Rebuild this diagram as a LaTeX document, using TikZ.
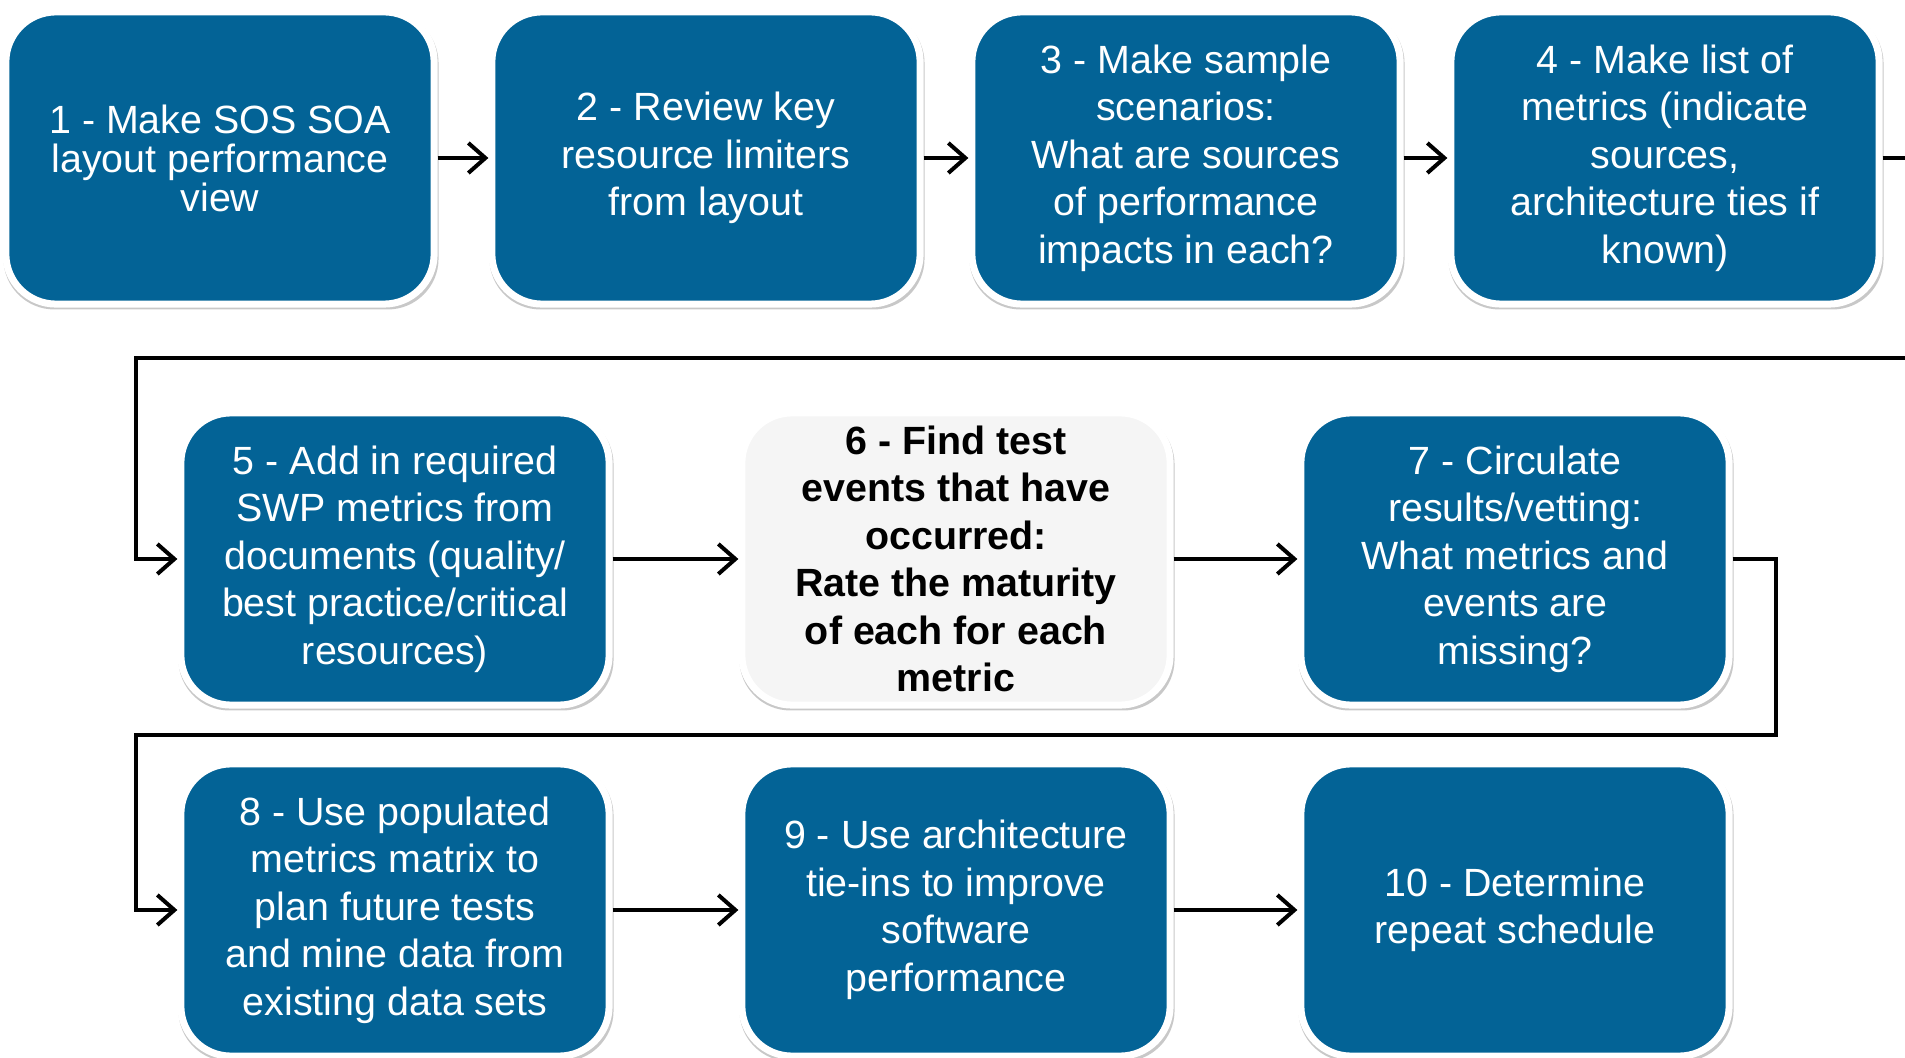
\documentclass[tikz,border=0pt]{standalone}
\usepackage{fontspec}
\setmainfont{Liberation Sans}
\usetikzlibrary{arrows.meta,shadows}

\definecolor{stepblue}{RGB}{3,99,150}
\definecolor{stepgray}{RGB}{245,245,245}

\tikzset{
  stepbox/.style={rectangle, rounded corners=0.5cm, draw=white, line width=0.07cm,
    fill=stepblue, text=white, minimum width=4.28cm, minimum height=2.92cm,
    inner sep=0pt, align=center, font=\fontsize{11.2}{13.5}\selectfont,
    drop shadow={shadow xshift=0.01cm, shadow yshift=-0.03cm, shadow scale=1.016,
      opacity=0.3, fill=black!70}},
  graybox/.style={stepbox, fill=stepgray, text=black,
    font=\fontsize{11.2}{13.5}\selectfont\bfseries},
  flow/.style={line width=0.04cm,
    -{Straight Barb[length=0.17cm,width=0.3cm]}}
}

\begin{document}
\begin{tikzpicture}[x=0.01cm,y=-0.01cm]
          \useasboundingbox (0,0) rectangle (1905,1058);
          \fill[white] (0,0) rectangle (1905,1058);
          \clip (0,0) rectangle (1905,1058);
          % first row
          \node[stepbox, font=\fontsize{11.2}{11.1}\selectfont] (b1) at (220,158) {1 - Make SOS SOA\\layout performance\\view};
          \node[stepbox] (b2) at (706,158) {2 - Review key\\resource limiters\\from layout};
          \node[stepbox] (b3) at (1186,158) {3 - Make sample\\scenarios:\\What are sources\\of performance\\impacts in each?};
          \node[stepbox] (b4) at (1665,158) {4 - Make list of\\metrics (indicate\\sources,\\architecture ties if\\known)};
          % second row
          \node[stepbox] (b5) at (395,559) {5 - Add in required\\SWP metrics from\\documents (quality/\\best practice/critical\\resources)};
          \node[graybox] (b6) at (956,559) {6 - Find test\\events that have\\occurred:\\Rate the maturity\\of each for each\\metric};
          \node[stepbox] (b7) at (1515,559) {7 - Circulate\\results/vetting:\\What metrics and\\events are\\missing?};
          % third row
          \node[stepbox] (b8) at (395,910) {8 - Use populated\\metrics matrix to\\plan future tests\\and mine data from\\existing data sets};
          \node[stepbox] (b9) at (956,910) {9 - Use architecture\\tie-ins to improve\\software\\performance};
          \node[stepbox] (b10) at (1515,910) {10 - Determine\\repeat schedule};
          % bends of the long connectors
          \coordinate (rt) at (1960,358);
          \coordinate (lt) at (136,358);
          \coordinate (rb) at (1776,735);
          \coordinate (lb) at (136,735);
          \draw[flow] (b1) -- (b2);
          \draw[flow] (b2) -- (b3);
          \draw[flow] (b3) -- (b4);
          \draw[flow] (b4.east) -| (rt) -- (lt) |- (b5.west);
          \draw[flow] (b5) -- (b6);
          \draw[flow] (b6) -- (b7);
          \draw[flow] (b7.east) -| (rb) -- (lb) |- (b8.west);
          \draw[flow] (b8) -- (b9);
          \draw[flow] (b9) -- (b10);
        \end{tikzpicture}
\end{document}
